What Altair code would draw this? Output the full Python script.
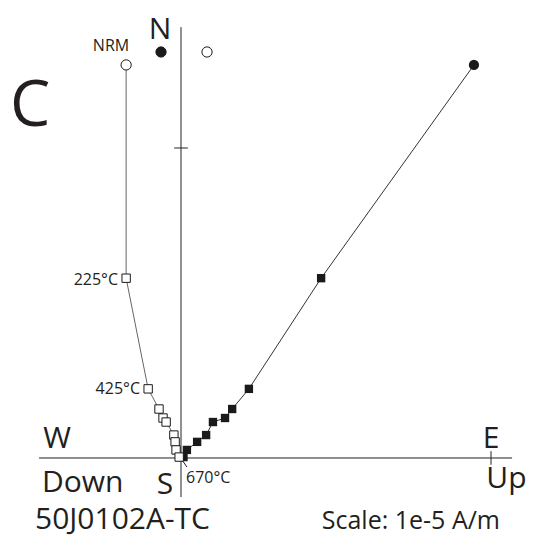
import altair as alt
import pandas as pd

# Demagnetisation steps (units of 1e-5 A/m)
steps = list(range(10))
north = [1.268, 0.58, 0.223, 0.158, 0.129, 0.116, 0.074, 0.052, 0.026, 0.003]
east = [0.945, 0.452, 0.219, 0.165, 0.142, 0.103, 0.081, 0.052, 0.019, 0.008]
up = [-0.177, -0.177, -0.106, -0.071, -0.058, -0.048, -0.023, -0.019, -0.016, -0.006]
marker = ["circle"] + ["square"] * 9

# small legend symbols beside N
leg_x = [-0.0645, 0.0839]
leg_y = [1.3097, 1.3097]
leg_fill = ["#1a1a1a", "white"]

# axes extents
hx = [-0.458, 1.068]
vy = [-0.126, 1.390]
tick = 1.0
tick_half = 0.022

# leader line for 670 label
lead_x = [0.003, 0.019]
lead_y = [-0.006, -0.029]

FONT = "Open Sans"
W, H = 518, 530
xs = alt.Scale(domain=[-0.5581, 1.1129], nice=False, zero=False)
ys = alt.Scale(domain=[-0.2581, 1.4516], nice=False, zero=False)

df = pd.DataFrame({"step": steps, "north": north, "east": east, "up": up, "marker": marker})
X = lambda f: alt.X(f, type="quantitative", scale=xs, axis=None)
Y = lambda f: alt.Y(f, type="quantitative", scale=ys, axis=None)

base = alt.Chart(df)
shape = alt.Shape("marker:N", scale=alt.Scale(domain=["circle", "square"], range=["circle", "square"]), legend=None)
size = alt.Size("marker:N", scale=alt.Scale(domain=["circle", "square"], range=[105, 70]), legend=None)

line_h = base.mark_line(color="#333333", strokeWidth=1).encode(x=X("east"), y=Y("north"), order="step:Q")
line_v = base.mark_line(color="#666666", strokeWidth=1).encode(x=X("up"), y=Y("north"), order="step:Q")
pts_h = base.mark_point(filled=True, color="#1a1a1a", opacity=1).encode(x=X("east"), y=Y("north"), shape=shape, size=size)
pts_v = base.mark_point(filled=True, fill="white", stroke="#1a1a1a", strokeWidth=1, opacity=1).encode(
    x=X("up"), y=Y("north"), shape=shape, size=size)

axes_df = pd.DataFrame({
    "x": [hx[0], 0, tick, -tick_half, lead_x[0]],
    "x2": [hx[1], 0, tick, tick_half, lead_x[1]],
    "y": [0, vy[0], -tick_half, tick, lead_y[0]],
    "y2": [0, vy[1], tick_half, tick, lead_y[1]],
})
axes = alt.Chart(axes_df).mark_rule(color="#222222", strokeWidth=1).encode(
    x=X("x"), x2="x2", y=Y("y"), y2="y2")

leg_df = pd.DataFrame({"x": leg_x, "y": leg_y, "f": leg_fill})
leg = alt.Chart(leg_df).mark_point(filled=True, shape="circle", size=105, stroke="#1a1a1a", strokeWidth=1, opacity=1).encode(
    x=X("x"), y=Y("y"), fill=alt.Fill("f:N", scale=None))

def txt(items, align, fs):
    d = pd.DataFrame(items, columns=["t", "x", "y"])
    return alt.Chart(d).mark_text(align=align, baseline="alphabetic", font=FONT, fontSize=fs, color="#231f20").encode(
        x=X("x"), y=Y("y"), text="t:N")

big_center = txt([["N", -0.0677, 1.3516], ["W", -0.400, 0.0323], ["E", 1.0, 0.0323], ["S", -0.0516, -0.1161]], "center", 30)
big_left = txt([["Down", -0.4484, -0.1097], ["Up", 0.985, -0.0968]], "left", 30)
ident = txt([["50J0102A-TC", -0.471, -0.2290]], "left", 30)
scale_t = txt([["Scale: 1e-5 A/m", 0.454, -0.2290]], "left", 25)
letter = txt([["C", -0.5516, 1.071]], "left", 64)
nrm = txt([["NRM", -0.2258, 1.3129]], "center", 16)
temps_r = txt([["225°C", -0.2032, 0.558], ["425°C", -0.1323, 0.2065]], "right", 16)
temps_l = txt([["670°C", 0.0161, -0.0806]], "left", 16)

chart = alt.layer(
    axes, line_v, line_h, pts_h, pts_v, leg,
    big_center, big_left, ident, scale_t, letter, nrm, temps_r, temps_l,
).properties(width=W, height=H, padding=0, autosize="none").configure_view(stroke=None)

chart.save("out.html", embed_options={"renderer": "svg", "actions": False})
